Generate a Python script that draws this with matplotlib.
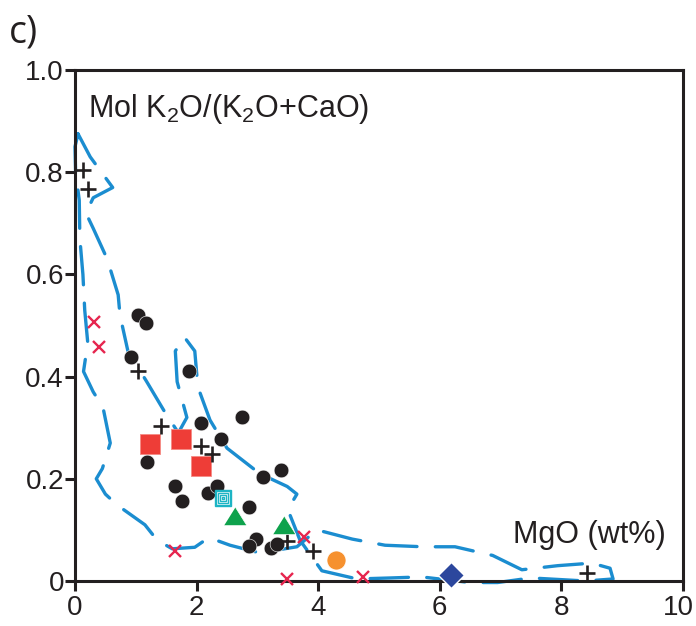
import matplotlib
matplotlib.use("Agg")
import matplotlib.pyplot as plt
from matplotlib.transforms import ScaledTranslation

plt.rcParams["mathtext.fontset"] = "custom"
plt.rcParams["mathtext.rm"] = "Liberation Sans"
plt.rcParams["mathtext.it"] = "Liberation Sans"

NEGRO = "#231f20"
AZUL = "#1b8dd0"

# datos: MgO (wt%) vs Mol K2O/(K2O+CaO)
circulos_x = [1.04, 1.17, 0.92, 1.88, 2.07, 2.75, 2.40, 1.18, 3.09, 3.39,
              1.64, 1.76, 2.19, 2.34, 2.86, 2.98, 2.86, 3.22, 3.32]
circulos_y = [0.520, 0.505, 0.438, 0.411, 0.309, 0.321, 0.278, 0.233, 0.204, 0.217,
              0.186, 0.157, 0.172, 0.186, 0.145, 0.082, 0.068, 0.065, 0.072]

cuadrados_x = [1.23, 1.74, 2.07]
cuadrados_y = [0.269, 0.277, 0.225]

cruces_x = [0.13, 0.21, 1.04, 1.42, 2.07, 2.25, 3.49, 3.91, 8.42]
cruces_y = [0.804, 0.767, 0.411, 0.303, 0.264, 0.248, 0.078, 0.059, 0.015]

equis_x = [0.31, 0.39, 1.64, 3.77, 3.49, 4.74]
equis_y = [0.507, 0.458, 0.059, 0.086, 0.004, 0.008]

triangulos_x = [2.63, 3.44]
triangulos_y = [0.127, 0.110]

cian_x = [2.43]
cian_y = [0.162]

naranja_x = [4.29]
naranja_y = [0.041]

diamante_x = [6.19]
diamante_y = [0.012]

# contorno dibujado a mano (linea discontinua)
contorno_x = [0.05, 0.0, 0.01, 0.07, 0.08, 0.13, 0.16, 0.21, 0.14, 0.30, 0.46, 0.58,
              0.45, 0.35, 0.50, 0.69, 1.15, 1.35, 1.60, 1.97, 2.20, 2.55, 3.04, 3.65,
              3.98, 4.56, 5.10, 5.72, 6.25, 6.87, 7.35, 7.94, 8.50, 8.80, 8.85, 8.40,
              8.10, 7.50, 6.95, 6.50, 5.70, 5.20, 4.64, 4.06, 3.70, 3.50, 3.65, 3.49,
              3.04, 2.50, 2.22, 2.02, 1.97, 1.80, 1.65, 1.68, 1.84, 1.70, 1.48, 1.18,
              0.87, 0.74, 0.71, 0.53, 0.30, 0.18, 0.30, 0.62, 0.25, 0.05]
contorno_y = [0.875, 0.85, 0.80, 0.745, 0.67, 0.60, 0.53, 0.466, 0.41, 0.37, 0.34, 0.27,
              0.22, 0.20, 0.17, 0.149, 0.11, 0.08, 0.063, 0.066, 0.085, 0.070, 0.055, 0.067,
              0.100, 0.082, 0.070, 0.067, 0.067, 0.050, 0.022, 0.030, 0.035, 0.025, 0.004, 0.0,
              0.002, 0.006, -0.003, -0.003, 0.008, 0.006, 0.004, 0.020, 0.080, 0.140, 0.170, 0.185,
              0.210, 0.260, 0.315, 0.380, 0.450, 0.477, 0.450, 0.390, 0.320, 0.290, 0.330, 0.390,
              0.450, 0.520, 0.560, 0.630, 0.690, 0.720, 0.750, 0.770, 0.830, 0.875]

fig = plt.figure(figsize=(6.96, 6.26), dpi=100)
ax = fig.add_axes([75 / 696, 1 - 581 / 626, 608 / 696, 511 / 626])

linea, = ax.plot(contorno_x, contorno_y, color=AZUL, lw=2.4, zorder=2,
                 dash_capstyle="round", solid_joinstyle="round", clip_on=False)
linea.set_dashes((11.5, 5.5))

ax.plot(circulos_x, circulos_y, "o", ms=10.6, color=NEGRO, mec="white", mew=0.4, zorder=3)
ax.plot(cuadrados_x, cuadrados_y, "s", ms=13.9, color="#ee3d37", mec="#f58a84", mew=0.6, zorder=3)
ax.plot(cruces_x, cruces_y, "+", ms=12, color=NEGRO, mew=1.9, zorder=4)
ax.plot(equis_x, equis_y, "x", ms=8.5, color="#e6264f", mew=1.7, zorder=4, clip_on=False)

triangulo = [(-1, -0.8), (1, -0.8), (0, 0.8)]
ax.plot(triangulos_x, triangulos_y, ls="none", marker=triangulo, ms=16.5,
        color="#0ea24c", mec="white", mew=0.5, zorder=4)

for tam in [12, 9.5, 7, 4.5, 2]:
    ax.plot(cian_x, cian_y, "s", ms=tam, mfc="white" if tam == 12 else "none",
            mec="#1cb4c4", mew=1.0, zorder=4)

ax.plot(naranja_x, naranja_y, "o", ms=13.7, color="#f6912f", mec="white", mew=0.5, zorder=4)
ax.plot(diamante_x, diamante_y, "D", ms=13.5, color="#2c479d", mec="white", mew=1.0,
        zorder=5, clip_on=False)

ax.set_xlim(0, 10)
ax.set_ylim(0, 1.0)
ax.set_xticks([0, 2, 4, 6, 8, 10])
ax.set_yticks([0, 0.2, 0.4, 0.6, 0.8, 1.0])
ax.set_yticklabels(["0", "0.2", "0.4", "0.6", "0.8", "1.0"])

for lado in ax.spines.values():
    lado.set_linewidth(2.2)
    lado.set_color(NEGRO)

ax.tick_params(direction="out", length=7.5, width=2.2, color=NEGRO,
               labelsize=20, labelcolor=NEGRO)
ax.tick_params(axis="x", pad=2.5)
ax.tick_params(axis="y", pad=0.5)
for etiqueta in ax.get_xticklabels() + ax.get_yticklabels():
    etiqueta.set_fontfamily("Liberation Sans")

# el "10" va un poco a la izquierda para que no se corte
ultima = ax.get_xticklabels()[-1]
ultima.set_transform(ultima.get_transform() + ScaledTranslation(-5 / 100, 0, fig.dpi_scale_trans))

ax.text(0.021, 0.908, r"Mol K$_2$O/(K$_2$O+CaO)", transform=ax.transAxes,
        fontsize=22, family="Liberation Sans", color=NEGRO, va="baseline", ha="left")
ax.text(0.72, 0.074, "MgO (wt%)", transform=ax.transAxes,
        fontsize=22, family="Liberation Sans", color=NEGRO, va="baseline", ha="left")

fig.text(9 / 696, 1 - 42 / 626, "c)", fontsize=27, family="Open Sans",
         color=NEGRO, va="baseline", ha="left")

fig.savefig("out.png", dpi=100)
